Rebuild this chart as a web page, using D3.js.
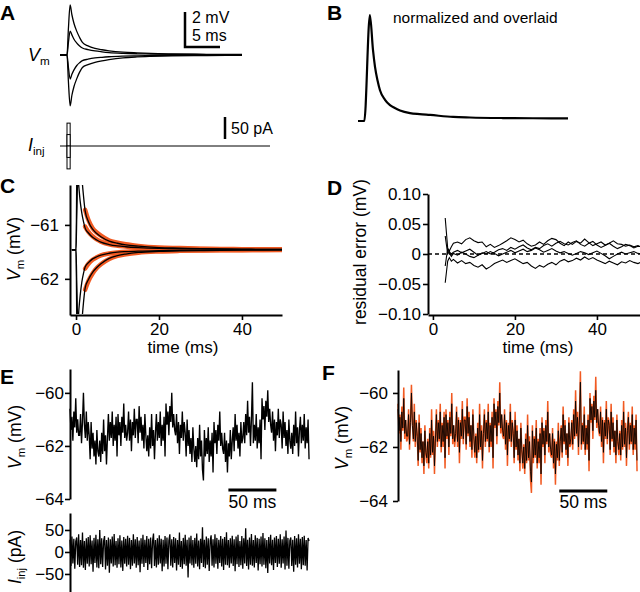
<!DOCTYPE html>
<html><head><meta charset="utf-8">
<script src="https://cdn.jsdelivr.net/npm/d3@7"></script>
<style>
body{margin:0;background:#fff;}
svg{display:block;font-family:"Liberation Sans",Arial,Helvetica,sans-serif;}
</style></head><body>
<svg id="fig" width="640" height="592"></svg>
<script>
// ---------------- DATA ----------------
const restingVm = -61.46;
// step responses (ms, mV)
const stepTime = [-1, 0, 0.2, 0.45, 0.7, 1.0, 1.4, 1.8, 2.2, 3, 4, 5, 6, 8, 10, 12, 15, 20, 25, 30, 35, 40, 45, 50];
const vmOuterUp = [-61.46, -61.46, -59.96, -58.60, -59.16, -59.66, -60.11, -60.46, -60.74, -60.94, -61.08, -61.16, -61.22, -61.30, -61.34, -61.37, -61.395, -61.42, -61.43, -61.44, -61.445, -61.45, -61.453, -61.455];
const vmInnerUp = [-61.46, -61.46, -60.76, -60.09, -60.31, -60.56, -60.78, -60.94, -61.06, -61.15, -61.23, -61.28, -61.32, -61.365, -61.39, -61.405, -61.42, -61.435, -61.44, -61.445, -61.45, -61.452, -61.454, -61.456];
const vmInnerDown = [-61.46, -61.46, -62.16, -62.83, -62.56, -62.31, -62.06, -61.90, -61.78, -61.70, -61.63, -61.59, -61.56, -61.525, -61.505, -61.495, -61.485, -61.475, -61.47, -61.468, -61.466, -61.464, -61.463, -61.462];
const vmOuterDown = [-61.46, -61.46, -62.96, -64.36, -63.76, -63.26, -62.81, -62.44, -62.17, -62.01, -61.88, -61.79, -61.72, -61.62, -61.57, -61.54, -61.51, -61.49, -61.48, -61.475, -61.47, -61.468, -61.466, -61.464];
// model fits
const fitTime = [2.2, 3, 4, 5, 6, 8, 10, 12, 15, 20, 25, 30, 35, 40, 45, 50];
const fitOuterUp = [-60.72, -60.91, -61.06, -61.14, -61.20, -61.29, -61.33, -61.36, -61.39, -61.42, -61.43, -61.44, -61.445, -61.45, -61.453, -61.455];
const fitInnerUp = [-61.03, -61.13, -61.21, -61.27, -61.31, -61.36, -61.385, -61.40, -61.42, -61.435, -61.44, -61.445, -61.45, -61.452, -61.454, -61.456];
const fitInnerDown = [-61.81, -61.72, -61.645, -61.60, -61.565, -61.53, -61.51, -61.497, -61.486, -61.476, -61.47, -61.468, -61.466, -61.464, -61.463, -61.462];
const fitOuterDown = [-62.20, -62.04, -61.90, -61.80, -61.73, -61.63, -61.575, -61.545, -61.515, -61.492, -61.481, -61.475, -61.47, -61.468, -61.466, -61.464];
// injected current pulses (pA), duration (ms)
const pulseAmps = [52, -52, 26, -26];
const pulseDur = 0.45;
// normalized overlay
const bTime = [-1, -0.1, 0.7, 1.14, 1.43, 1.8, 2.14, 2.86, 3.57, 4.2, 5, 6.43, 7.8, 9.3, 12.6, 15, 19.7, 24, 29];
const bNorm = [0, 0, 1, 0.67, 0.51, 0.38, 0.29, 0.20, 0.15, 0.125, 0.10, 0.075, 0.065, 0.057, 0.038, 0.033, 0.028, 0.026, 0.025];
// residual errors (ms, mV)
const residTime = [3, 3.3, 3.6, 4, 4.5, 5, 6, 7, 8, 9, 10, 11, 12, 13, 14, 15, 16, 17, 18, 19, 20, 21, 22, 23, 24, 25, 26, 27, 28, 29, 30, 31, 32, 33, 34, 35, 36, 37, 38, 39, 40, 41, 42, 43, 44, 45, 46, 47, 48, 49, 50, 51];
const resid1 = [0.06, 0.035, 0.01, 0.005, 0.012, 0.018, 0.02, 0.017, 0.024, 0.027, 0.022, 0.019, 0.02, 0.012, 0.016, 0.011, 0.014, 0.018, 0.022, 0.027, 0.024, 0.02, 0.023, 0.017, 0.013, 0.015, 0.02, 0.016, 0.022, 0.026, 0.024, 0.018, 0.014, 0.02, 0.016, 0.021, 0.018, 0.025, 0.019, 0.014, 0.017, 0.02, 0.015, 0.018, 0.022, 0.017, 0.016, 0.013, 0.015, 0.012, 0.014, 0.011];
const resid2 = [0.03, 0.015, 0.0, 0.004, 0.0, 0.003, 0.006, 0.002, 0.005, 0.008, 0.003, -0.002, 0.001, 0.004, 0.0, 0.003, 0.007, 0.009, 0.006, 0.011, 0.008, 0.012, 0.015, 0.01, 0.007, 0.011, 0.009, 0.014, 0.017, 0.013, 0.018, 0.021, 0.017, 0.015, 0.019, 0.022, 0.016, 0.013, 0.018, 0.021, 0.015, 0.011, 0.014, 0.018, 0.013, 0.009, 0.012, 0.016, 0.014, 0.01, 0.013, 0.012];
const resid3 = [-0.02, -0.005, 0.008, 0.002, -0.004, 0.001, -0.002, 0.003, 0.0, -0.004, -0.006, -0.002, 0.002, 0.0, 0.004, 0.001, -0.003, 0.0, 0.003, 0.006, 0.002, 0.005, 0.008, 0.004, 0.006, 0.01, 0.007, 0.003, 0.006, 0.009, 0.005, 0.002, 0.004, 0.001, -0.002, 0.001, 0.004, 0.002, -0.001, 0.002, 0.005, 0.001, -0.003, -0.008, -0.004, 0.0, 0.003, 0.0, 0.002, 0.004, 0.001, 0.0];
const resid4 = [-0.048, -0.03, -0.012, -0.006, -0.012, -0.009, -0.015, -0.011, -0.016, -0.014, -0.019, -0.022, -0.018, -0.025, -0.021, -0.016, -0.013, -0.01, -0.014, -0.011, -0.008, -0.012, -0.016, -0.014, -0.02, -0.024, -0.019, -0.022, -0.017, -0.014, -0.018, -0.012, -0.009, -0.013, -0.011, -0.007, -0.01, -0.005, -0.009, -0.006, -0.01, -0.013, -0.016, -0.012, -0.015, -0.018, -0.013, -0.015, -0.011, -0.014, -0.016, -0.013];
// noise-driven recording, 1 ms per sample (mV)
const noiseVm = [
-60.6,-61.4,-60.9,-61.8,-60.7,-61.3,-60.2,-61.5,-61.0,-61.6,
-61.6,-60.8,-61.9,-61.1,-60.0,-61.2,-61.7,-60.7,-61.8,-61.1,
-61.6,-62.5,-61.1,-62.1,-61.5,-62.4,-61.8,-62.7,-61.4,-62.2,
-62.4,-61.8,-62.6,-61.5,-62.3,-61.0,-62.2,-61.6,-62.7,-61.7,
-60.8,-61.8,-61.1,-61.7,-60.7,-62.0,-61.2,-61.8,-60.9,-62.4,
-60.8,-61.6,-61.1,-62.0,-60.9,-61.5,-60.4,-61.7,-61.2,-61.8,
-61.5,-60.7,-61.8,-61.0,-62.2,-61.1,-61.6,-60.6,-61.7,-61.0,
-61.0,-61.9,-60.5,-61.5,-60.9,-61.8,-61.2,-62.1,-60.8,-61.6,
-62.2,-61.6,-62.4,-61.3,-62.1,-60.8,-62.0,-61.4,-62.5,-61.5,
-60.8,-61.8,-61.1,-61.7,-60.7,-62.0,-61.2,-61.8,-60.9,-62.4,
-60.4,-61.2,-60.7,-61.6,-60.5,-61.1,-60.0,-61.3,-60.8,-61.4,
-61.6,-60.8,-61.9,-61.1,-62.3,-61.2,-61.7,-60.7,-61.8,-61.1,
-61.5,-62.4,-61.0,-62.0,-61.4,-62.3,-61.7,-62.6,-61.3,-62.1,
-62.6,-62.0,-62.8,-61.7,-62.5,-61.2,-62.4,-61.8,-62.9,-63.3,
-61.4,-62.4,-61.7,-62.3,-61.3,-62.6,-61.8,-62.4,-61.5,-63.0,
-61.1,-61.9,-61.4,-62.3,-61.2,-61.8,-60.7,-62.0,-61.5,-62.1,
-62.3,-61.5,-62.6,-61.8,-63.0,-61.9,-62.4,-61.4,-62.5,-61.8,
-61.3,-62.2,-60.8,-61.8,-61.2,-62.1,-61.5,-62.4,-61.1,-61.9,
-61.7,-61.1,-61.9,-60.8,-61.6,-60.3,-61.5,-60.9,-62.0,-61.0,
-59.6,-61.9,-61.2,-61.8,-60.8,-62.1,-61.3,-61.9,-61.0,-62.5,
-60.2,-61.0,-60.5,-61.4,-60.3,-60.9,-59.9,-61.1,-60.6,-61.2,
-61.5,-60.7,-61.8,-61.0,-62.2,-61.1,-61.6,-60.6,-61.7,-61.0,
-61.2,-62.1,-60.7,-61.7,-61.1,-62.0,-61.4,-62.3,-61.0,-61.8,
-62.1,-61.5,-62.3,-61.2,-62.0,-60.7,-61.9,-61.3,-62.4,-61.4,
-60.9,-61.9,-61.2,-61.8,-60.8,-62.1,-61.3,-61.9,-61.0,-62.5];
// model prediction of the same recording (mV)
const modelVm = [
-60.4,-61.5,-60.8,-62.1,-60.5,-61.4,-59.8,-61.7,-61.0,-61.8,
-61.7,-60.6,-62.1,-61.0,-59.7,-61.1,-61.8,-60.4,-62.0,-61.0,
-61.5,-62.7,-60.8,-62.2,-61.3,-62.6,-61.8,-63.0,-61.2,-62.3,
-62.6,-61.7,-62.8,-61.3,-62.4,-60.6,-62.3,-61.4,-63.0,-61.6,
-60.6,-62.0,-61.0,-61.8,-60.4,-62.2,-61.1,-62.0,-60.7,-62.8,
-60.6,-61.7,-61.0,-62.3,-60.7,-61.6,-60.0,-61.9,-61.2,-62.0,
-61.6,-60.5,-62.0,-60.9,-62.6,-61.0,-61.7,-60.3,-61.9,-60.9,
-60.9,-62.1,-60.2,-61.6,-60.7,-62.0,-61.2,-62.4,-60.6,-61.7,
-62.4,-61.5,-62.6,-61.1,-62.2,-60.4,-62.1,-61.2,-62.8,-61.4,
-60.6,-62.0,-61.0,-61.8,-60.4,-62.2,-61.1,-62.0,-60.7,-62.8,
-60.2,-61.3,-60.6,-61.9,-60.3,-61.2,-59.6,-61.5,-60.8,-61.6,
-61.7,-60.6,-62.1,-61.0,-62.7,-61.1,-61.8,-60.4,-62.0,-61.0,
-61.4,-62.6,-60.7,-62.1,-61.2,-62.5,-61.7,-62.9,-61.1,-62.2,
-62.8,-61.9,-63.0,-61.5,-62.6,-60.8,-62.5,-61.6,-63.2,-63.7,
-61.2,-62.6,-61.6,-62.4,-61.0,-62.8,-61.7,-62.6,-61.3,-63.4,
-60.9,-62.0,-61.3,-62.6,-61.0,-61.9,-60.3,-62.2,-61.5,-62.3,
-62.4,-61.3,-62.8,-61.7,-63.4,-61.8,-62.5,-61.1,-62.7,-61.7,
-61.2,-62.4,-60.5,-61.9,-61.0,-62.3,-61.5,-62.7,-60.9,-62.0,
-61.9,-61.0,-62.1,-60.6,-61.7,-59.9,-61.6,-60.7,-62.3,-60.9,
-59.2,-62.1,-61.1,-61.9,-60.5,-62.3,-61.2,-62.1,-60.8,-62.9,
-60.0,-61.1,-60.4,-61.7,-60.1,-61.0,-59.4,-61.3,-60.6,-61.4,
-61.6,-60.5,-62.0,-60.9,-62.6,-61.0,-61.7,-60.3,-61.9,-60.9,
-61.1,-62.3,-60.4,-61.8,-60.9,-62.2,-61.4,-62.6,-60.8,-61.9,
-62.3,-61.4,-62.5,-61.0,-62.1,-60.3,-62.0,-61.1,-62.7,-61.3,
-60.7,-62.1,-61.1,-61.9,-60.5,-62.3,-61.2,-62.1,-60.8,-62.9];
// injected noise current, 1 ms per sample (pA)
const noiseI = [
28,-32,35,-26,30,-38,24,33,-29,40,
-34,27,-30,44,-36,25,-41,31,-27,34,
-33,38,-28,26,-45,32,-25,39,-35,29,
-37,50,-28,31,-34,25,36,-40,27,-31,
33,-47,29,-26,35,-33,41,-30,25,-36,
31,-28,38,-35,26,-43,34,-27,30,-33,
37,-29,32,-39,27,-31,40,-26,29,-36,
34,-30,26,-46,31,-27,39,-34,28,-25,
36,-41,30,-28,33,-37,25,42,-32,27,
-35,31,-29,38,-26,30,-44,28,-33,36,
-27,33,-39,26,40,-31,29,-35,34,-25,
31,-42,27,-29,44,-34,25,-38,32,-28,
39,-31,28,-58,33,-26,37,-30,27,-36,
32,-27,42,-33,26,-39,30,-25,56,-34,
28,-37,35,-29,31,-43,26,38,-31,29,
-35,40,-27,32,-38,28,-25,36,-33,30,
-41,34,-29,45,-30,27,-36,31,-26,37,
-32,29,-44,35,-28,39,-34,25,-30,36,
-38,31,-26,54,-32,28,-40,33,-29,41,
-31,27,-35,38,-25,32,-42,30,-28,35,
-33,43,-29,31,-37,27,-48,34,-26,39,
-30,28,-41,33,-25,36,-34,30,-27,40,
-36,29,-26,35,-40,49,-31,32,-38,26,
33,-32,28,-45,36,-29,31,-35,40,-27,
30,-39,34,-30,37,-31,27,-42,32,25];
const sampleMs = 1;

// ---------------- DRAWING ----------------
const svg = d3.select("#fig");
const ORANGE = "#f15a22";
const FONT = '"Liberation Sans",Arial,Helvetica,sans-serif';
const intFmt = d3.format("d");

function panelLabel(x, y, s) {
  svg.append("text").attr("x", x).attr("y", y).attr("font-size", 21).attr("font-weight", "bold").text(s);
}
function rich(x, y, size, parts, rot, anchor) {
  const t = svg.append("text")
    .attr("transform", `translate(${x},${y})` + (rot ? " rotate(-90)" : ""))
    .attr("text-anchor", anchor || "middle").attr("font-size", size);
  parts.forEach(p => {
    const s = t.append("tspan").text(p.t);
    if (p.i) s.attr("font-style", "italic");
    if (p.sub) s.attr("font-size", size * 0.65).attr("dy", size * 0.22);
    if (p.up) s.attr("dy", -size * 0.22);
  });
  return t;
}
function styleAxis(g, size) {
  g.attr("font-family", FONT).attr("font-size", size);
  g.select(".domain").attr("stroke-width", 2);
  g.selectAll(".tick line").attr("stroke-width", 1.6);
  g.selectAll(".tick text").attr("fill", "#000");
}
function clip(id, x, y, w, h) {
  svg.append("clipPath").attr("id", id).append("rect").attr("x", x).attr("y", y).attr("width", w).attr("height", h);
}

const traces = [vmOuterUp, vmInnerUp, vmInnerDown, vmOuterDown];
const fits = [fitOuterUp, fitInnerUp, fitInnerDown, fitOuterDown];

// ===== Panel A =====
panelLabel(0, 20, "A");
const ax = d3.scaleLinear().domain([-1, 29]).range([60, 270]);
const ay = d3.scaleLinear().domain([restingVm - 1, restingVm + 1]).range([55 + 17.5, 55 - 17.5]);
const lineA = d3.line().x(d => ax(d[0])).y(d => ay(d[1])).curve(d3.curveMonotoneX);
traces.forEach(tr => {
  const pts = stepTime.map((t, i) => [t, tr[i]]).filter(d => d[0] <= 29);
  svg.append("path").attr("d", lineA(pts)).attr("fill", "none").attr("stroke", "#000").attr("stroke-width", 1.3);
});
const sbX = 185, sbY = 47;
svg.append("path").attr("d", `M${sbX},${sbY - (ay(restingVm) - ay(restingVm + 2))}V${sbY}H${sbX + ax(5) - ax(0)}`)
  .attr("fill", "none").attr("stroke", "#000").attr("stroke-width", 2.5);
svg.append("text").attr("x", 192).attr("y", 23).attr("font-size", 16).text("2 mV");
svg.append("text").attr("x", 192).attr("y", 41).attr("font-size", 16).text("5 ms");
rich(28, 61, 18, [{t: "V", i: true}, {t: "m", sub: true}], false, "start");

const iy = d3.scaleLinear().domain([-50, 50]).range([146 + 22, 146 - 22]);
svg.append("line").attr("x1", ax(-1)).attr("x2", ax(29)).attr("y1", iy(0)).attr("y2", iy(0)).attr("stroke", "#000").attr("stroke-width", 1);
pulseAmps.forEach(a => {
  svg.append("rect").attr("x", ax(0)).attr("width", ax(pulseDur) - ax(0))
    .attr("y", Math.min(iy(0), iy(a))).attr("height", Math.abs(iy(a) - iy(0)))
    .attr("fill", "#fff").attr("stroke", "#000").attr("stroke-width", 1);
});
svg.append("line").attr("x1", 225).attr("x2", 225).attr("y1", 139 - (iy(0) - iy(50))).attr("y2", 139).attr("stroke", "#000").attr("stroke-width", 2.5);
svg.append("text").attr("x", 231).attr("y", 134).attr("font-size", 16).text("50 pA");
rich(28, 151, 18, [{t: "I", i: true}, {t: "inj", sub: true}], false, "start");

// ===== Panel B =====
panelLabel(327, 20, "B");
const bx = d3.scaleLinear().domain([-1, 29]).range([358, 568]);
const by = d3.scaleLinear().domain([0, 1]).range([121, 15]);
svg.append("path").attr("d", d3.line().x((d, i) => bx(bTime[i])).y(d => by(d)).curve(d3.curveMonotoneX)(bNorm))
  .attr("fill", "none").attr("stroke", "#000").attr("stroke-width", 2.2);
svg.append("text").attr("x", 393).attr("y", 23).attr("font-size", 15.5).text("normalized and overlaid");

// ===== Panel C =====
panelLabel(0, 193, "C");
const cx = d3.scaleLinear().domain([-1.45, 49.65]).range([70, 282]);
const cy = d3.scaleLinear().domain([-62.67, -60.26]).range([315, 185]);
clip("clipC", 71, 185, 211, 129);
const gC = svg.append("g").attr("clip-path", "url(#clipC)");
const lineC = d3.line().x(d => cx(d[0])).y(d => cy(d[1])).curve(d3.curveMonotoneX);
fits.forEach(f => {
  gC.append("path").attr("d", lineC(fitTime.map((t, i) => [t, f[i]]))).attr("fill", "none")
    .attr("stroke", ORANGE).attr("stroke-width", 4.5).attr("stroke-linecap", "round");
});
traces.forEach(tr => {
  gC.append("path").attr("d", lineC(stepTime.map((t, i) => [t, tr[i]]))).attr("fill", "none")
    .attr("stroke", "#000").attr("stroke-width", 1.3);
});
const gCx = svg.append("g").attr("transform", "translate(0,315)")
  .call(d3.axisBottom(cx).tickValues([0, 20, 40]).tickSize(5).tickSizeOuter(0).tickPadding(3).tickFormat(intFmt));
styleAxis(gCx, 17);
const gCy = svg.append("g").attr("transform", "translate(70,0)")
  .call(d3.axisLeft(cy).tickValues([-61, -62]).tickSize(5).tickSizeOuter(0).tickPadding(6).tickFormat(intFmt));
styleAxis(gCy, 17);
svg.append("text").attr("x", 183).attr("y", 353).attr("text-anchor", "middle").attr("font-size", 17).text("time (ms)");
rich(20, 249, 17.5, [{t: "V", i: true}, {t: "m", sub: true}, {t: " (mV)", up: true}], true);

// ===== Panel D =====
panelLabel(327, 195, "D");
const dx = d3.scaleLinear().domain([-1.2, 50.5]).range([428, 640]);
const dy = d3.scaleLinear().domain([-0.10, 0.10]).range([314, 194]);
svg.append("line").attr("x1", 428).attr("x2", 640).attr("y1", dy(0)).attr("y2", dy(0))
  .attr("stroke", "#000").attr("stroke-width", 1.5).attr("stroke-dasharray", "4,3");
[resid1, resid2, resid3, resid4].forEach(r => {
  svg.append("path").attr("d", d3.line().x((d, i) => dx(residTime[i])).y(d => dy(d))(r))
    .attr("fill", "none").attr("stroke", "#000").attr("stroke-width", 1.1);
});
const gDx = svg.append("g").attr("transform", "translate(0,315)")
  .call(d3.axisBottom(dx).tickValues([0, 20, 40]).tickSize(5).tickSizeOuter(0).tickPadding(3).tickFormat(intFmt));
styleAxis(gDx, 17);
const gDy = svg.append("g").attr("transform", "translate(428,0)")
  .call(d3.axisLeft(dy).tickValues([-0.10, -0.05, 0, 0.05, 0.10]).tickSize(5).tickSizeOuter(0).tickPadding(2)
    .tickFormat(d => d === 0 ? "0" : d3.format(".2f")(d)));
styleAxis(gDy, 17);
svg.append("text").attr("x", 538).attr("y", 353).attr("text-anchor", "middle").attr("font-size", 17).text("time (ms)");
svg.append("text").attr("transform", "translate(366,252) rotate(-90)").attr("text-anchor", "middle").attr("font-size", 17.5).text("residual error (mV)");

// ===== Panel E =====
panelLabel(0, 384, "E");
const ex = d3.scaleLinear().domain([0, 250]).range([70, 310]);
const ey = d3.scaleLinear().domain([-64, -59.1]).range([499, 369]);
svg.append("path").attr("d", d3.line().x((d, i) => ex(i * sampleMs)).y(d => ey(d))(noiseVm))
  .attr("fill", "none").attr("stroke", "#000").attr("stroke-width", 1.35);
const gEy = svg.append("g").attr("transform", "translate(70,0)")
  .call(d3.axisLeft(ey).tickValues([-60, -62, -64]).tickSize(5).tickSizeOuter(0).tickPadding(1).tickFormat(intFmt));
styleAxis(gEy, 17);
svg.append("line").attr("x1", ex(165)).attr("x2", ex(215)).attr("y1", 490).attr("y2", 490).attr("stroke", "#000").attr("stroke-width", 3);
svg.append("text").attr("x", ex(190)).attr("y", 508).attr("text-anchor", "middle").attr("font-size", 17.5).text("50 ms");
rich(21, 437, 17.5, [{t: "V", i: true}, {t: "m", sub: true}, {t: " (mV)", up: true}], true);

const eiy = d3.scaleLinear().domain([-91, 88.6]).range([592, 513]);
svg.append("path").attr("d", d3.line().x((d, i) => ex(i * sampleMs)).y(d => eiy(d))(noiseI))
  .attr("fill", "none").attr("stroke", "#000").attr("stroke-width", 1.3);
const gEi = svg.append("g").attr("transform", "translate(70,0)")
  .call(d3.axisLeft(eiy).tickValues([50, 0, -50]).tickSize(5).tickSizeOuter(0).tickPadding(1).tickFormat(intFmt));
styleAxis(gEi, 17);
rich(21, 557, 17.5, [{t: "I", i: true}, {t: "inj", sub: true}, {t: " (pA)", up: true}], true);

// ===== Panel F =====
panelLabel(322, 380, "F");
const fx = d3.scaleLinear().domain([0, 250]).range([398, 638]);
const fy = d3.scaleLinear().domain([-64, -59.15]).range([501, 370]);
svg.append("path").attr("d", d3.line().x((d, i) => fx(i * sampleMs)).y(d => fy(d))(modelVm))
  .attr("fill", "none").attr("stroke", ORANGE).attr("stroke-width", 1.5);
svg.append("path").attr("d", d3.line().x((d, i) => fx(i * sampleMs)).y(d => fy(d))(noiseVm))
  .attr("fill", "none").attr("stroke", "#000").attr("stroke-width", 1.0).attr("stroke-opacity", 0.85);
const gFy = svg.append("g").attr("transform", "translate(398,0)")
  .call(d3.axisLeft(fy).tickValues([-60, -62, -64]).tickSize(5).tickSizeOuter(0).tickPadding(5).tickFormat(intFmt));
styleAxis(gFy, 17);
svg.append("line").attr("x1", fx(168)).attr("x2", fx(218)).attr("y1", 491).attr("y2", 491).attr("stroke", "#000").attr("stroke-width", 3);
svg.append("text").attr("x", fx(193)).attr("y", 508).attr("text-anchor", "middle").attr("font-size", 17.5).text("50 ms");
rich(348, 438, 17.5, [{t: "V", i: true}, {t: "m", sub: true}, {t: " (mV)", up: true}], true);
</script>
</body></html>
